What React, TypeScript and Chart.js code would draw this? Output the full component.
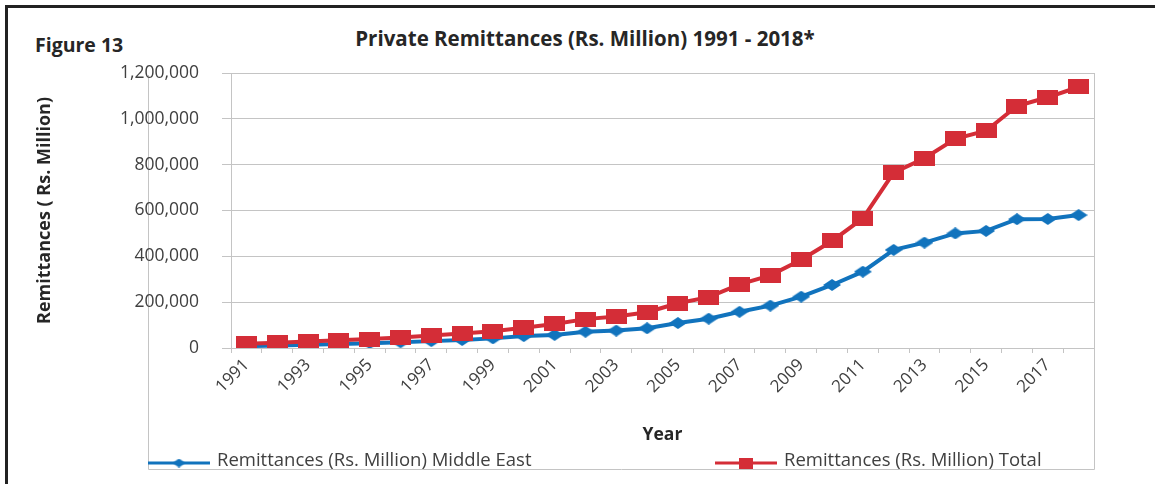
import { useEffect, useRef } from "react";
import Chart from "chart.js/auto";

const years = [
  "1991", "1992", "1993", "1994", "1995", "1996", "1997", "1998", "1999", "2000",
  "2001", "2002", "2003", "2004", "2005", "2006", "2007", "2008", "2009", "2010",
  "2011", "2012", "2013", "2014", "2015", "2016", "2017", "2018",
];

const middleEast = [
  8000, 11000, 14000, 17000, 21000, 25000, 30000, 35000, 42000, 52000,
  57000, 71000, 76000, 86000, 109000, 128000, 158000, 185000, 224000, 275000,
  333000, 428000, 460000, 500000, 511000, 562000, 563000, 580000,
];

const total = [
  19000, 23000, 28000, 34000, 39000, 46000, 55000, 63000, 73000, 88000,
  105000, 126000, 137000, 156000, 195000, 222000, 278000, 317000, 385000, 467000,
  566000, 765000, 828000, 913000, 948000, 1056000, 1094000, 1139000,
];

const yTicks = [0, 200000, 400000, 600000, 800000, 1000000, 1200000];
const seriesLabels = [
  "Remittances (Rs. Million) Middle East",
  "Remittances (Rs. Million) Total",
];
const chartTitle = "Private Remittances (Rs. Million) 1991 - 2018*";
const figureLabel = "Figure 13";
const yAxisTitle = "Remittances ( Rs. Million)";
const xAxisTitle = "Year";

const BLUE = "#1173bd";
const RED = "#d42d37";
const GRID = "#c4c4c4";
const TEXT = "#404040";
const FONT = "'Open Sans', Lato, sans-serif";

function makeRect(w: number, h: number, color: string) {
  const c = document.createElement("canvas");
  c.width = w;
  c.height = h;
  const ctx = c.getContext("2d")!;
  ctx.fillStyle = color;
  ctx.fillRect(0, 0, w, h);
  return c;
}

function makeDiamond(w: number, h: number, color: string) {
  const c = document.createElement("canvas");
  c.width = w;
  c.height = h;
  const ctx = c.getContext("2d")!;
  ctx.fillStyle = color;
  ctx.beginPath();
  ctx.moveTo(w / 2, 0);
  ctx.lineTo(w, h / 2);
  ctx.lineTo(w / 2, h);
  ctx.lineTo(0, h / 2);
  ctx.closePath();
  ctx.fill();
  return c;
}

const CANVAS_LEFT = 14;

export default function App() {
  const ref = useRef<HTMLCanvasElement | null>(null);

  useEffect(() => {
    if (!ref.current) return;
    const diamond = makeDiamond(18, 12, BLUE);
    const square = makeRect(21, 15, RED);
    const legendDiamond = makeDiamond(13, 9, BLUE);
    const legendSquare = makeRect(14, 11, RED);

    const framePlugin = {
      id: "frameBox",
      beforeDraw(chart: any) {
        const { ctx, chartArea } = chart;
        ctx.save();
        ctx.strokeStyle = GRID;
        ctx.lineWidth = 1;
        ctx.beginPath();
        ctx.moveTo(148 - CANVAS_LEFT + 0.5, 75);
        ctx.lineTo(148 - CANVAS_LEFT + 0.5, 469.5);
        ctx.lineTo(chartArea.right + 0.5, 469.5);
        ctx.lineTo(chartArea.right + 0.5, chartArea.top);
        ctx.stroke();
        ctx.restore();
      },
    };

    const legendPlugin = {
      id: "customLegend",
      afterDraw(chart: any) {
        const { ctx } = chart;
        const items = [
          { x: 148 - CANVAS_LEFT, marker: legendDiamond, ds: 0 },
          { x: 715 - CANVAS_LEFT, marker: legendSquare, ds: 1 },
        ];
        const y = 463;
        ctx.save();
        items.forEach((it) => {
          const dset = chart.data.datasets[it.ds];
          ctx.strokeStyle = dset.borderColor;
          ctx.lineWidth = 3;
          ctx.beginPath();
          ctx.moveTo(it.x, y);
          ctx.lineTo(it.x + 62, y);
          ctx.stroke();
          ctx.drawImage(
            it.marker,
            it.x + 31 - it.marker.width / 2,
            y - it.marker.height / 2
          );
          ctx.fillStyle = TEXT;
          ctx.font = `18.5px ${FONT}`;
          ctx.textBaseline = "middle";
          ctx.textAlign = "left";
          ctx.fillText(dset.label, it.x + 69, y - 2);
        });
        ctx.restore();
      },
    };

    const chart = new Chart(ref.current, {
      type: "line",
      data: {
        labels: years,
        datasets: [
          {
            label: seriesLabels[0],
            data: middleEast,
            borderColor: BLUE,
            backgroundColor: BLUE,
            borderWidth: 4,
            pointStyle: diamond as any,
            pointRadius: 6,
            tension: 0,
            order: 1,
          },
          {
            label: seriesLabels[1],
            data: total,
            borderColor: RED,
            backgroundColor: RED,
            borderWidth: 4,
            pointStyle: square as any,
            pointRadius: 7,
            tension: 0,
            order: 0,
          },
        ],
      },
      options: {
        responsive: false,
        animation: false,
        devicePixelRatio: 1,
        layout: { padding: { top: 73, right: 61, left: 0, bottom: 0 } },
        plugins: {
          legend: { display: false },
          tooltip: { enabled: false },
          title: { display: false },
        },
        scales: {
          x: {
            type: "category",
            offset: true,
            grid: {
              offset: true,
              drawOnChartArea: false,
              drawTicks: true,
              tickLength: 5,
              color: GRID,
            },
            border: { color: GRID, width: 1 },
            ticks: {
              autoSkip: false,
              maxRotation: 45,
              minRotation: 45,
              padding: 2,
              color: TEXT,
              font: { family: FONT, size: 17 },
              callback: (_v: any, i: number) => (i % 2 === 0 ? years[i] : ""),
            },
            title: {
              display: true,
              text: xAxisTitle,
              color: "#262626",
              font: { family: FONT, size: 17.5, weight: "bold" },
              padding: { top: 0, bottom: 38 },
            },
            afterFit(scale: any) {
              scale.height = 136;
            },
          },
          y: {
            min: 0,
            max: 1200000,
            afterBuildTicks(scale: any) {
              scale.ticks = yTicks.map((v) => ({ value: v }));
            },
            grid: {
              color: GRID,
              drawTicks: true,
              tickLength: 9,
            },
            border: { color: GRID, width: 1 },
            ticks: {
              padding: 23,
              color: TEXT,
              font: { family: FONT, size: 17.5 },
              callback: (v: any) => Number(v).toLocaleString("en-US"),
            },
            title: {
              display: true,
              text: yAxisTitle,
              color: "#262626",
              font: { family: FONT, size: 18, weight: "bold" },
              padding: { top: 20, bottom: 0 },
            },
            afterFit(scale: any) {
              scale.width = 217;
            },
          },
        },
      },
      plugins: [framePlugin, legendPlugin],
    });
    return () => chart.destroy();
  }, []);

  return (
    <div
      style={{
        position: "fixed",
        left: 0,
        top: 0,
        width: 1155,
        height: 484,
        background: "#fff",
        overflow: "hidden",
        fontFamily: FONT,
      }}
    >
      <div
        style={{
          position: "absolute",
          left: 5,
          top: 5,
          width: 1200,
          height: 600,
          borderLeft: "3px solid #222",
          borderTop: "3px solid #222",
        }}
      />
      <div
        style={{
          position: "absolute",
          left: 35,
          top: 32,
          lineHeight: "26px",
          fontSize: 19.5,
          fontWeight: "bold",
          color: "#262626",
        }}
      >
        {figureLabel}
      </div>
      <div
        style={{
          position: "absolute",
          left: 0,
          width: 1170,
          top: 25,
          lineHeight: "26px",
          fontSize: 20.5,
          fontWeight: "bold",
          textAlign: "center",
          color: "#262626",
        }}
      >
        {chartTitle}
      </div>
      <canvas
        ref={ref}
        width={1155 - CANVAS_LEFT}
        height={484}
        style={{ position: "absolute", left: CANVAS_LEFT, top: 0 }}
      />
    </div>
  );
}
